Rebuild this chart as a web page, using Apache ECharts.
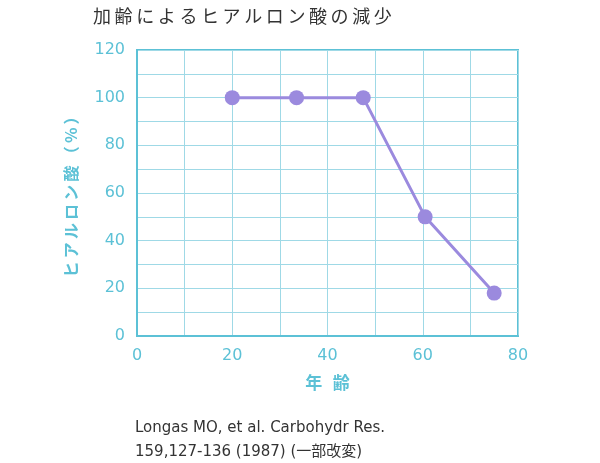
<!DOCTYPE html>
<html><head><meta charset="utf-8">
<script src="https://cdn.jsdelivr.net/npm/echarts@6/dist/echarts.min.js"></script>
<style>html,body{margin:0;background:#fff}#c{width:600px;height:463px}</style>
</head><body><div id="c"></div>
<script>
// age (years) vs hyaluronic acid (%)
const ages = [20, 33.5, 47.5, 60.5, 75];
const hyaluronic = [100, 100, 100, 50, 18];
const xTickLabels = ['0', '20', '40', '60', '80'];
const yTickLabels = ['0', '20', '40', '60', '80', '100', '120'];

const cyan = '#5cc1d6';
const purple = '#9b8ade';
const font = '"Noto Sans CJK JP", "Noto Sans", sans-serif';
const latin = '"DejaVu Sans", "Noto Sans CJK JP", sans-serif';
const spaced = s => s.split('').join('\u2009');

const chart = echarts.init(document.getElementById('c'));
chart.setOption({
  animation: false,
  textStyle: { fontFamily: font },
  title: {
    text: spaced('加齢によるヒアルロン酸の減少'), left: 88, top: 2,
    textStyle: { fontSize: 18, fontWeight: 'normal', color: '#333', fontFamily: font }
  },
  graphic: [{
    type: 'text', left: 135, top: 416,
    style: {
      text: 'Longas MO, et al. Carbohydr Res.\n159,127-136 (1987) (一部改変)',
      fill: '#333', font: '15px ' + latin, lineHeight: 24
    }
  }],
  grid: { left: 137, right: 82, top: 50, bottom: 127, show: true, borderColor: cyan, borderWidth: 2 },
  xAxis: {
    type: 'value', min: 0, max: 80, interval: 10,
    name: spaced('年 齢'), nameLocation: 'middle', nameGap: 38,
    nameTextStyle: { color: cyan, fontSize: 17, fontWeight: 'bold' },
    axisLine: { lineStyle: { color: cyan, width: 2 } },
    axisTick: { show: false },
    axisLabel: {
      color: cyan, fontSize: 16, margin: 12, fontFamily: latin,
      formatter: v => v % 20 === 0 ? xTickLabels[v / 20] : ''
    },
    splitLine: { lineStyle: { color: '#9fd9e6', width: 1 } }
  },
  yAxis: {
    type: 'value', min: 0, max: 120, interval: 10,
    name: spaced('ヒアルロン酸（%）'), nameLocation: 'middle', nameGap: 58,
    nameTextStyle: { color: cyan, fontSize: 16, fontWeight: 'bold' },
    axisLine: { show: true, lineStyle: { color: cyan, width: 2 } },
    axisTick: { show: false },
    axisLabel: {
      color: cyan, fontSize: 16, margin: 12, fontFamily: latin,
      formatter: v => v % 20 === 0 ? yTickLabels[v / 20] : ''
    },
    splitLine: { lineStyle: { color: '#9fd9e6', width: 1 } }
  },
  series: [{
    type: 'line',
    data: ages.map((a, i) => [a, hyaluronic[i]]),
    symbol: 'circle', symbolSize: 15,
    lineStyle: { color: purple, width: 3 },
    itemStyle: { color: purple }
  }]
});
</script></body></html>
